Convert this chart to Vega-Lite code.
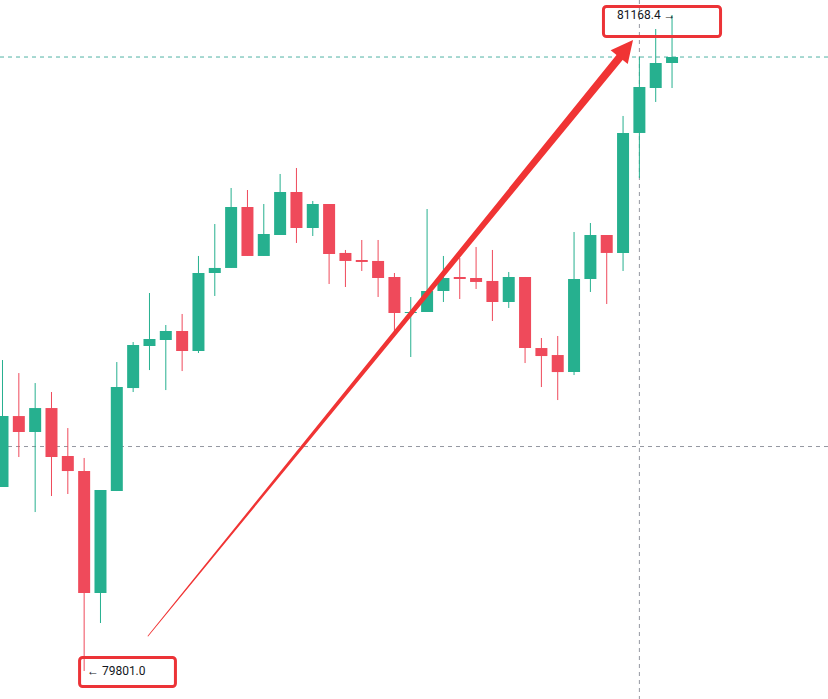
{
  "$schema": "https://vega.github.io/schema/vega-lite/v6.json",
  "width": 828,
  "height": 699,
  "autosize": {"type": "none"},
  "padding": 0,
  "background": "#ffffff",
  "config": {
    "view": {"stroke": null},
    "axis": {"labels": false, "ticks": false, "domain": false, "title": null, "grid": true, "gridColor": "#f2f3f5", "gridWidth": 1, "minExtent": 0, "maxExtent": 0}
  },
  "datasets": {
    "candles": [
      {"i": 0, "o": 80184.5, "h": 80449.2, "l": 80184.5, "c": 80332.4},
      {"i": 1, "o": 80332.4, "h": 80422.0, "l": 80247.0, "c": 80299.1},
      {"i": 2, "o": 80299.1, "h": 80401.2, "l": 80132.3, "c": 80349.1},
      {"i": 3, "o": 80349.1, "h": 80382.5, "l": 80165.7, "c": 80247.0},
      {"i": 4, "o": 80249.1, "h": 80307.4, "l": 80169.9, "c": 80217.8},
      {"i": 5, "o": 80217.8, "h": 80245.0, "l": 79801.0, "c": 79963.5},
      {"i": 6, "o": 79963.5, "h": 80178.2, "l": 79901.0, "c": 80178.2},
      {"i": 7, "o": 80176.1, "h": 80445.0, "l": 80176.1, "c": 80392.9},
      {"i": 8, "o": 80390.8, "h": 80486.7, "l": 80382.5, "c": 80480.5},
      {"i": 9, "o": 80478.4, "h": 80588.9, "l": 80428.3, "c": 80493.0},
      {"i": 10, "o": 80490.9, "h": 80522.2, "l": 80386.6, "c": 80509.7},
      {"i": 11, "o": 80509.7, "h": 80545.2, "l": 80426.2, "c": 80468.0},
      {"i": 12, "o": 80468.0, "h": 80666.1, "l": 80463.8, "c": 80630.6},
      {"i": 13, "o": 80630.6, "h": 80732.7, "l": 80582.7, "c": 80641.1},
      {"i": 14, "o": 80641.1, "h": 80807.8, "l": 80641.1, "c": 80768.2},
      {"i": 15, "o": 80768.2, "h": 80803.6, "l": 80666.1, "c": 80666.1},
      {"i": 16, "o": 80666.1, "h": 80774.4, "l": 80666.1, "c": 80711.9},
      {"i": 17, "o": 80709.8, "h": 80837.0, "l": 80709.8, "c": 80799.4},
      {"i": 18, "o": 80799.4, "h": 80849.5, "l": 80693.2, "c": 80724.4},
      {"i": 19, "o": 80724.4, "h": 80780.7, "l": 80707.7, "c": 80774.4},
      {"i": 20, "o": 80774.4, "h": 80774.4, "l": 80607.7, "c": 80670.2},
      {"i": 21, "o": 80672.4, "h": 80678.6, "l": 80601.4, "c": 80655.7},
      {"i": 22, "o": 80657.7, "h": 80699.4, "l": 80634.8, "c": 80653.6},
      {"i": 23, "o": 80655.7, "h": 80699.4, "l": 80580.6, "c": 80620.2},
      {"i": 24, "o": 80622.3, "h": 80630.6, "l": 80505.5, "c": 80547.2},
      {"i": 25, "o": 80547.2, "h": 80580.6, "l": 80455.5, "c": 80549.3},
      {"i": 26, "o": 80549.3, "h": 80764.0, "l": 80549.3, "c": 80593.1},
      {"i": 27, "o": 80593.1, "h": 80666.1, "l": 80570.2, "c": 80620.2},
      {"i": 28, "o": 80622.3, "h": 80661.9, "l": 80576.4, "c": 80618.1},
      {"i": 29, "o": 80620.2, "h": 80684.8, "l": 80597.3, "c": 80611.9},
      {"i": 30, "o": 80614.0, "h": 80678.6, "l": 80530.6, "c": 80570.2},
      {"i": 31, "o": 80570.2, "h": 80632.7, "l": 80557.7, "c": 80622.3},
      {"i": 32, "o": 80622.3, "h": 80622.3, "l": 80442.9, "c": 80474.2},
      {"i": 33, "o": 80474.2, "h": 80495.1, "l": 80392.9, "c": 80457.5},
      {"i": 34, "o": 80459.6, "h": 80499.3, "l": 80365.8, "c": 80424.1},
      {"i": 35, "o": 80424.1, "h": 80716.0, "l": 80417.9, "c": 80618.1},
      {"i": 36, "o": 80618.1, "h": 80734.8, "l": 80591.0, "c": 80709.8},
      {"i": 37, "o": 80709.8, "h": 80709.8, "l": 80566.0, "c": 80672.4},
      {"i": 38, "o": 80672.4, "h": 80957.9, "l": 80634.8, "c": 80922.5},
      {"i": 39, "o": 80922.5, "h": 81080.8, "l": 80828.6, "c": 81018.3},
      {"i": 40, "o": 81016.2, "h": 81139.2, "l": 80987.1, "c": 81068.3},
      {"i": 41, "o": 81068.3, "h": 81168.4, "l": 81016.2, "c": 81080.8}
    ]
  },
  "layer": [
    {
      "data": {"values": [{"p": 80268.9}]},
      "mark": {"type": "rule", "stroke": "#9598a1", "strokeWidth": 1, "strokeDash": [4, 4]},
      "encoding": {
        "y": {"field": "p", "type": "quantitative", "scale": {"domain": [79742.6, 81199.67], "nice": false, "zero": false, "padding": 0},
              "axis": {"values": [81162, 81062, 80961, 80861, 80760, 80660, 80559, 80459, 80358, 80258, 80157, 80057, 79956, 79856, 79755]}}
      }
    },
    {
      "data": {"values": [{"x": 39}]},
      "mark": {"type": "rule", "stroke": "#9598a1", "strokeWidth": 1, "strokeDash": [4, 4]},
      "encoding": {
        "x": {"field": "x", "type": "quantitative", "scale": {"domain": [-0.153, 50.55], "nice": false, "zero": false, "padding": 0},
              "axis": {"values": [2, 10, 18, 26, 34, 42, 50]}}
      }
    },
    {
      "data": {"values": [{"p": 81080.8}]},
      "mark": {"type": "rule", "stroke": "#4fb3a4", "strokeWidth": 1, "strokeDash": [4, 4]},
      "encoding": {
        "y": {"field": "p", "type": "quantitative", "axis": null}
      }
    },
    {
      "data": {"name": "candles"},
      "mark": {"type": "rule", "strokeWidth": 1},
      "encoding": {
        "x": {"field": "i", "type": "quantitative", "axis": null},
        "y": {"field": "l", "type": "quantitative", "axis": null},
        "y2": {"field": "h"},
        "color": {"condition": {"test": "datum.c >= datum.o", "value": "#26b08f"}, "value": "#ef4a5b"}
      }
    },
    {
      "data": {"name": "candles"},
      "mark": {"type": "bar", "width": 12},
      "encoding": {
        "x": {"field": "i", "type": "quantitative", "axis": null},
        "y": {"field": "o", "type": "quantitative", "axis": null},
        "y2": {"field": "c"},
        "color": {"condition": {"test": "datum.c >= datum.o", "value": "#26b08f"}, "value": "#ef4a5b"}
      }
    },
    {
      "data": {"values": [{"ax": 8.91, "ay": 79873.9, "w": 0.8}, {"ax": 38.06, "ay": 81091.3, "w": 8}]},
      "mark": {"type": "trail", "color": "#f03434"},
      "encoding": {
        "x": {"field": "ax", "type": "quantitative", "axis": null},
        "y": {"field": "ay", "type": "quantitative", "axis": null},
        "size": {"field": "w", "type": "quantitative", "scale": null, "legend": null}
      }
    },
    {
      "data": {"values": [{"ax": 38.61, "ay": 81116.3}]},
      "mark": {"type": "point", "shape": "M0,0 L-0.5,1 L0.5,1 Z", "size": 1936, "angle": 39, "filled": true, "color": "#f03434", "opacity": 1, "strokeWidth": 0},
      "encoding": {
        "x": {"field": "ax", "type": "quantitative", "axis": null},
        "y": {"field": "ay", "type": "quantitative", "axis": null}
      }
    },
    {
      "data": {"values": [
        {"x1": 36.8, "x2": 43.97, "y1": 81186.1, "y2": 81123.6},
        {"x1": 4.72, "x2": 10.59, "y1": 79829.1, "y2": 79768.7}
      ]},
      "mark": {"type": "rect", "fill": null, "fillOpacity": 0, "stroke": "#ec3337", "strokeWidth": 3, "cornerRadius": 3},
      "encoding": {
        "x": {"field": "x1", "type": "quantitative", "axis": null},
        "x2": {"field": "x2"},
        "y": {"field": "y1", "type": "quantitative", "axis": null},
        "y2": {"field": "y2"}
      }
    },
    {
      "data": {"values": [
        {"tx": 37.63, "ty": 81168.4, "t": "81168.4 →"},
        {"tx": 5.17, "ty": 79801.0, "t": "← 79801.0"}
      ]},
      "mark": {"type": "text", "align": "left", "baseline": "middle", "font": "Roboto", "fontSize": 12, "color": "#131722"},
      "encoding": {
        "x": {"field": "tx", "type": "quantitative", "axis": null},
        "y": {"field": "ty", "type": "quantitative", "axis": null},
        "text": {"field": "t"}
      }
    }
  ]
}
